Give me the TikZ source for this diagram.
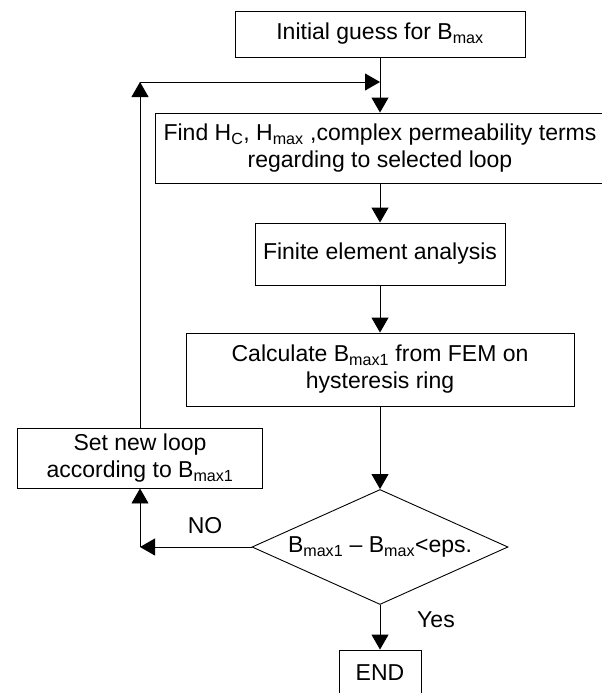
\documentclass[tikz,border=0pt]{standalone}
\usepackage{fontspec}
\setmainfont{Liberation Sans}
\usetikzlibrary{positioning,shapes.geometric,arrows.meta}

\begin{document}
\begin{tikzpicture}[x=1pt,y=1pt,yscale=-1,xscale=1,
        font=\fontsize{23}{27}\selectfont,
        box/.style={draw,line width=0.9,align=center,inner sep=1pt},
        arr/.style={-{Triangle[length=15pt,width=17pt]},line width=0.9}]
        \useasboundingbox (0,0) rectangle (602,693);
        % boxes
        \node [box,minimum width=290,minimum height=46] (init) at (380,34) {Initial guess for B\textsubscript{max}};
        \node [box,minimum width=450,minimum height=70] (find) at (380,148) {Find H\textsubscript{C}, H\textsubscript{max} ,complex permeability terms\\regarding to selected loop};
        \node [box,minimum width=250,minimum height=62] (fea) at (380,254) {Finite element analysis};
        \node [box,minimum width=388,minimum height=73] (calc) at (380,369.5) {Calculate B\textsubscript{max1} from FEM on\\hysteresis ring};
        \node [box,minimum width=245,minimum height=60] (setloop) at (140,458) {Set new loop\\according to B\textsubscript{max1}};
        \node [draw,diamond,aspect=2.23,line width=0.9,inner sep=0pt,minimum width=256,minimum height=115] (check) at (380,547) {B\textsubscript{max1} – B\textsubscript{max}<eps.};
        \node [box,minimum width=82,minimum height=46] (end) at (380,673) {END};
        \node (no) at (205,526) {NO};
        \node (yes) at (436,620) {Yes};

        \coordinate (backturn) at (140,82);
        \coordinate (join) at (init.south |- backturn);
        \coordinate (noturn) at (setloop.south |- check.west);

        % arrows
        \draw [arr] (init.south) -- (find.north);
        \draw [arr] (find.south) -- (fea.north);
        \draw [arr] (fea.south) -- (calc.north);
        \draw [arr] (calc.south) -- (check.north);
        \draw [arr] (check.south) -- (end.north);
        \draw [arr] (check.west) -- (noturn);
        \draw [arr] (noturn) -- (setloop.south);
        \draw [arr] (setloop.north) -- (backturn);
        \draw [arr] (backturn) -- (join);
    \end{tikzpicture}
\end{document}
